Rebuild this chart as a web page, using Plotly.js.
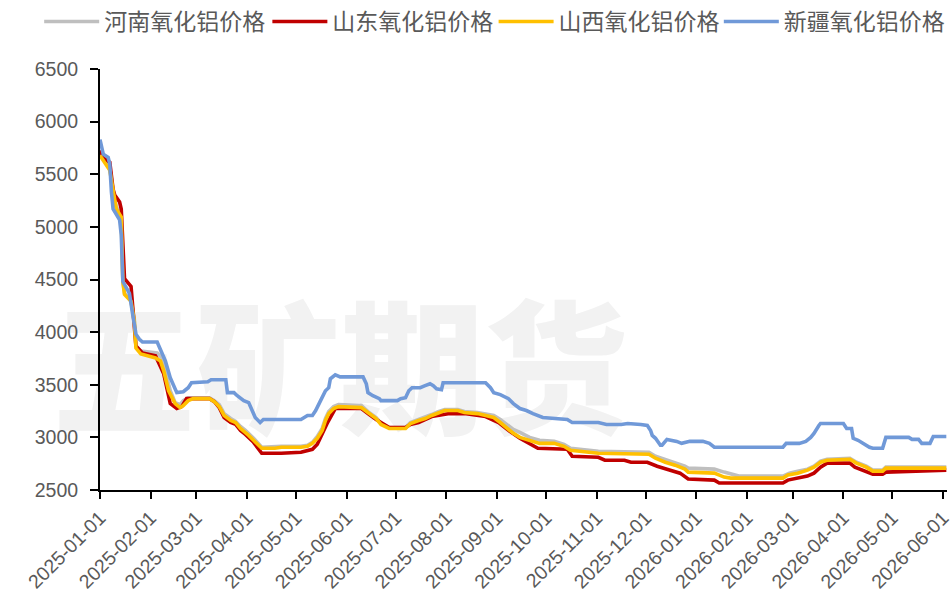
<!DOCTYPE html>
<html>
<head>
<meta charset="utf-8">
<script src="https://cdn.plot.ly/plotly-3.0.1.min.js"></script>
<style>
  html, body { margin: 0; padding: 0; background: #ffffff; }
  #wrap { position: relative; width: 950px; height: 596px; overflow: hidden; }
  #wm { position: absolute; left: 52px; top: 288px; font-family: "Noto Sans CJK SC", sans-serif; font-weight: 900;
        font-size: 144px; line-height: 1; color: #f2f2f2; white-space: nowrap; letter-spacing: 0px; }
  #chart { position: absolute; left: 0; top: 0; width: 950px; height: 596px; }
</style>
</head>
<body>
<div id="wrap">
  <div id="wm">五矿期货</div>
  <div id="chart"></div>
</div>
<script>
// ---- data ----
const seriesNames = ['河南氧化铝价格', '山东氧化铝价格', '山西氧化铝价格', '新疆氧化铝价格'];

const henanDates = ['2025-01-01','2025-01-05','2025-01-07','2025-01-09','2025-01-11','2025-01-14','2025-01-15','2025-01-16','2025-01-20','2025-01-22','2025-01-23','2025-01-26','2025-02-05','2025-02-08','2025-02-10','2025-02-13','2025-02-16','2025-02-19','2025-02-21','2025-02-24','2025-03-09','2025-03-12','2025-03-15','2025-03-18','2025-03-22','2025-03-25','2025-03-28','2025-03-31','2025-04-05','2025-04-08','2025-04-10','2025-04-22','2025-05-04','2025-05-08','2025-05-11','2025-05-14','2025-05-17','2025-05-19','2025-05-21','2025-05-24','2025-05-27','2025-06-10','2025-06-14','2025-06-19','2025-06-22','2025-06-27','2025-07-07','2025-07-10','2025-07-15','2025-07-19','2025-07-23','2025-07-27','2025-07-31','2025-08-08','2025-08-12','2025-08-20','2025-08-26','2025-08-30','2025-09-03','2025-09-07','2025-09-11','2025-09-15','2025-09-21','2025-09-27','2025-10-06','2025-10-12','2025-10-16','2025-11-02','2025-12-03','2025-12-07','2025-12-13','2025-12-19','2025-12-25','2025-12-27','2026-01-12','2026-01-18','2026-01-27','2026-02-23','2026-02-27','2026-03-04','2026-03-10','2026-03-14','2026-03-18','2026-03-22','2026-04-05','2026-04-09','2026-04-15','2026-04-19','2026-04-25','2026-04-27','2026-06-03'];
const henanPrice = [5707,5613,5557,5349,5189,5113,4481,4368,4311,4123,3868,3821,3802,3755,3632,3443,3330,3311,3349,3377,3377,3349,3311,3226,3179,3151,3104,3066,2991,2934,2906,2915,2915,2925,2953,3009,3085,3179,3245,3292,3311,3302,3245,3189,3132,3094,3094,3141,3170,3189,3217,3245,3264,3264,3245,3236,3217,3208,3170,3123,3075,3047,3000,2972,2962,2934,2896,2868,2858,2821,2792,2764,2726,2708,2698,2670,2632,2632,2660,2679,2698,2726,2774,2792,2802,2764,2726,2689,2689,2717,2717];

const shandongDates = ['2025-01-01','2025-01-04','2025-01-07','2025-01-09','2025-01-10','2025-01-13','2025-01-14','2025-01-16','2025-01-20','2025-01-21','2025-01-23','2025-01-27','2025-02-04','2025-02-09','2025-02-13','2025-02-17','2025-02-20','2025-02-23','2025-03-09','2025-03-12','2025-03-15','2025-03-18','2025-03-22','2025-03-25','2025-03-28','2025-03-31','2025-04-05','2025-04-10','2025-04-22','2025-05-04','2025-05-11','2025-05-14','2025-05-20','2025-05-25','2025-06-10','2025-06-14','2025-06-19','2025-06-27','2025-07-07','2025-07-10','2025-07-15','2025-07-23','2025-08-03','2025-08-12','2025-08-25','2025-09-02','2025-09-08','2025-09-15','2025-09-23','2025-09-26','2025-10-14','2025-10-17','2025-11-02','2025-11-06','2025-11-18','2025-11-22','2025-12-02','2025-12-08','2025-12-14','2025-12-22','2025-12-27','2026-01-12','2026-01-15','2026-02-23','2026-02-26','2026-03-04','2026-03-10','2026-03-14','2026-03-18','2026-03-22','2026-04-05','2026-04-08','2026-04-15','2026-04-19','2026-04-25','2026-04-27','2026-06-03'];
const shandongPrice = [5726,5642,5613,5358,5302,5236,5170,4509,4434,4226,3868,3802,3774,3604,3321,3274,3292,3368,3368,3340,3283,3189,3141,3123,3066,3028,2953,2849,2849,2858,2887,2934,3132,3274,3274,3226,3170,3094,3094,3123,3141,3198,3226,3226,3198,3141,3066,2991,2925,2896,2887,2821,2811,2783,2783,2764,2764,2726,2698,2660,2604,2594,2566,2566,2594,2613,2632,2660,2717,2755,2755,2717,2670,2651,2651,2670,2689];

const shanxiDates = ['2025-01-01','2025-01-05','2025-01-07','2025-01-09','2025-01-11','2025-01-14','2025-01-15','2025-01-16','2025-01-20','2025-01-22','2025-01-23','2025-01-26','2025-02-04','2025-02-07','2025-02-09','2025-02-12','2025-02-16','2025-02-19','2025-02-21','2025-02-24','2025-02-27','2025-03-09','2025-03-12','2025-03-15','2025-03-18','2025-03-22','2025-03-25','2025-03-28','2025-03-31','2025-04-02','2025-04-05','2025-04-08','2025-04-10','2025-04-18','2025-04-22','2025-05-04','2025-05-08','2025-05-11','2025-05-14','2025-05-17','2025-05-19','2025-05-21','2025-05-24','2025-05-27','2025-06-10','2025-06-14','2025-06-19','2025-06-22','2025-06-27','2025-07-07','2025-07-10','2025-07-15','2025-07-19','2025-07-23','2025-07-27','2025-07-31','2025-08-08','2025-08-12','2025-08-20','2025-08-26','2025-08-30','2025-09-03','2025-09-07','2025-09-11','2025-09-15','2025-09-21','2025-09-27','2025-10-06','2025-10-12','2025-10-16','2025-11-02','2025-12-03','2025-12-07','2025-12-13','2025-12-19','2025-12-25','2025-12-27','2026-01-12','2026-01-18','2026-01-22','2026-02-23','2026-02-26','2026-03-04','2026-03-10','2026-03-14','2026-03-18','2026-03-22','2026-04-05','2026-04-09','2026-04-15','2026-04-19','2026-04-25','2026-04-27','2026-06-03'];
const shanxiPrice = [5679,5585,5538,5349,5170,5094,4481,4358,4292,4104,3849,3792,3755,3726,3632,3443,3321,3283,3302,3349,3368,3368,3340,3292,3208,3160,3141,3085,3047,3019,2972,2925,2896,2896,2906,2906,2915,2943,2991,3066,3160,3226,3274,3292,3283,3236,3179,3123,3085,3085,3132,3160,3179,3208,3236,3255,3255,3236,3226,3208,3189,3141,3085,3038,3000,2972,2943,2943,2915,2877,2849,2840,2802,2764,2736,2698,2670,2660,2623,2613,2613,2642,2660,2689,2717,2764,2783,2792,2755,2717,2679,2679,2708,2708];

const xinjiangDates = ['2025-01-01','2025-01-03','2025-01-06','2025-01-07','2025-01-08','2025-01-09','2025-01-13','2025-01-14','2025-01-15','2025-01-17','2025-01-19','2025-01-21','2025-01-23','2025-01-25','2025-01-27','2025-02-05','2025-02-08','2025-02-10','2025-02-13','2025-02-16','2025-02-17','2025-02-21','2025-02-24','2025-02-26','2025-03-08','2025-03-10','2025-03-19','2025-03-20','2025-03-24','2025-03-26','2025-03-30','2025-04-02','2025-04-04','2025-04-06','2025-04-09','2025-04-11','2025-05-04','2025-05-06','2025-05-08','2025-05-11','2025-05-13','2025-05-16','2025-05-19','2025-05-21','2025-05-22','2025-05-25','2025-05-28','2025-06-11','2025-06-13','2025-06-14','2025-06-17','2025-06-21','2025-06-22','2025-07-02','2025-07-04','2025-07-07','2025-07-09','2025-07-11','2025-07-16','2025-07-19','2025-07-22','2025-07-24','2025-07-26','2025-07-29','2025-07-30','2025-08-25','2025-08-28','2025-08-30','2025-09-03','2025-09-08','2025-09-11','2025-09-15','2025-09-19','2025-09-23','2025-09-29','2025-10-14','2025-10-17','2025-11-02','2025-11-07','2025-11-16','2025-11-20','2025-11-28','2025-12-02','2025-12-04','2025-12-05','2025-12-07','2025-12-10','2025-12-11','2025-12-14','2025-12-20','2025-12-23','2025-12-28','2026-01-05','2026-01-09','2026-01-12','2026-02-23','2026-02-25','2026-03-05','2026-03-09','2026-03-12','2026-03-14','2026-03-17','2026-03-18','2026-04-01','2026-04-03','2026-04-06','2026-04-07','2026-04-10','2026-04-13','2026-04-17','2026-04-19','2026-04-25','2026-04-27','2026-05-11','2026-05-13','2026-05-17','2026-05-19','2026-05-24','2026-05-26','2026-06-03'];
const xinjiangPrice = [5830,5690,5660,5594,5330,5170,5066,4925,4481,4415,4368,4170,3981,3934,3906,3906,3792,3726,3566,3462,3425,3434,3472,3519,3528,3547,3547,3425,3425,3396,3349,3330,3255,3189,3141,3170,3170,3189,3208,3208,3255,3349,3443,3472,3557,3594,3575,3575,3509,3425,3396,3368,3349,3349,3368,3377,3443,3472,3472,3491,3509,3491,3462,3453,3519,3519,3472,3425,3406,3368,3321,3274,3255,3226,3189,3170,3141,3141,3123,3123,3132,3123,3113,3066,3019,2991,2925,2925,2981,2962,2943,2962,2962,2943,2906,2906,2943,2943,2962,3000,3038,3113,3132,3132,3085,3085,2991,2972,2943,2906,2896,2896,3000,3000,2981,2981,2943,2943,3009,3009];

const yTicks = [2500, 3000, 3500, 4000, 4500, 5000, 5500, 6000, 6500];

const colors = ['#BFBFBF', '#C00000', '#FFC000', '#7099D8'];
const allDates = [henanDates, shandongDates, shanxiDates, xinjiangDates];
const allPrices = [henanPrice, shandongPrice, shanxiPrice, xinjiangPrice];
const legendIds = ['legend', 'legend2', 'legend3', 'legend4'];
const legendX = [-0.0718, 0.1976, 0.4647, 0.7306];

const traces = seriesNames.map((name, i) => ({
  type: 'scatter',
  mode: 'lines',
  name: name,
  legend: legendIds[i],
  x: allDates[i],
  y: allPrices[i],
  line: { color: colors[i], width: 3.6 },
  hoverinfo: 'x+y+name'
}));

const tickFont = { family: '"Liberation Sans", Arial, sans-serif', size: 19.5, color: '#595959' };

const layout = {
  width: 950,
  height: 596,
  margin: { l: 100, r: 0, t: 66, b: 106, pad: 0 },
  paper_bgcolor: 'rgba(0,0,0,0)',
  plot_bgcolor: 'rgba(0,0,0,0)',
  showlegend: true,
  xaxis: {
    type: 'date',
    range: ['2025-01-01', '2026-06-03 10:00'],
    tick0: '2025-01-01',
    dtick: 'M1',
    tickformat: '%Y-%m-%d',
    tickangle: -45,
    ticks: 'outside',
    ticklen: 7,
    tickwidth: 1.5,
    tickcolor: '#000000',
    showline: true,
    linecolor: '#000000',
    linewidth: 1.5,
    showgrid: false,
    zeroline: false,
    automargin: false,
    ticklabeloverflow: 'allow',
    tickfont: tickFont
  },
  yaxis: {
    range: [2500, 6500],
    tickvals: yTicks,
    ticktext: yTicks.map(String),
    ticks: 'outside',
    ticklen: 8,
    tickwidth: 1.5,
    tickcolor: '#000000',
    showline: true,
    linecolor: '#000000',
    linewidth: 2,
    showgrid: false,
    zeroline: false,
    automargin: false,
    ticklabelstandoff: 8,
    tickfont: tickFont
  }
};

legendIds.forEach((id, i) => {
  layout[id] = {
    orientation: 'h',
    x: legendX[i], xanchor: 'left',
    y: 1.165, yanchor: 'top',
    font: { family: '"Noto Sans CJK SC", sans-serif', size: 23, color: '#595959' },
    itemwidth: 55,
    bgcolor: 'rgba(0,0,0,0)'
  };
});

Plotly.newPlot('chart', traces, layout, { displayModeBar: false, staticPlot: false });
</script>
</body>
</html>
